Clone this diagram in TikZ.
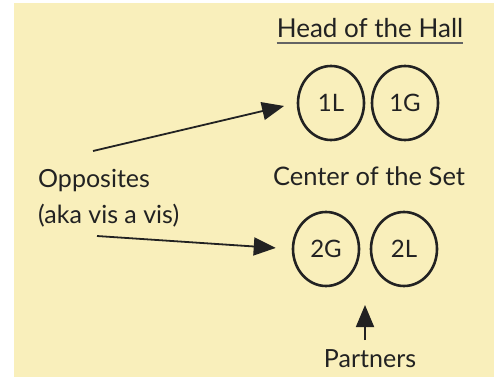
\documentclass[tikz,border=0pt]{standalone}
\usepackage{fontspec}
\setmainfont{Lato}
\usetikzlibrary{arrows.meta,shapes.geometric}
\definecolor{paper}{RGB}{249,239,187}
\definecolor{ink}{RGB}{34,34,34}
\tikzset{
  label text/.style={text=ink, inner sep=0pt, font=\fontsize{25}{30}\selectfont},
  dancer/.style={ellipse, draw=ink, line width=2.6pt, minimum width=66pt,
    minimum height=74pt, inner sep=0pt, text=ink,
    font=\fontsize{24}{28}\selectfont},
  pointer/.style={draw=ink, line width=1.8pt,
    -{Triangle[length=22pt,width=18pt]}},
}
\begin{document}
\begin{tikzpicture}[x=1pt,y=-1pt]
  \useasboundingbox (0,0) rectangle (497,377);
  % sheet of paper
  \fill[paper] (14,3) rectangle (494,377);

  % titles
  \node[label text, anchor=base, font=\fontsize{26}{30}\selectfont] (head) at (370,38) {Head of the Hall};
  \draw[ink!70, line width=1.4pt] ([yshift=-5pt]head.base west) -- ([yshift=-5pt]head.base east);
  \node[label text, anchor=base, font=\fontsize{25.5}{30}\selectfont] (center) at (369,185) {Center of the Set};
  \node[label text, anchor=base west] (opp) at (38,187) {Opposites};
  \node[label text, anchor=base west] (aka) at (38,223) {(aka vis a vis)};
  \node[label text, anchor=base] (partners) at (370,367) {Partners};

  % dancers
  \node[dancer] (l1) at (331,103) {1L};
  \node[dancer] (g1) at (405,103) {1G};
  \node[dancer] (g2) at (326,249) {2G};
  \node[dancer] (l2) at (404,249) {2L};

  % arrows
  \coordinate (oppTop) at (93,151);
  \coordinate (oppBot) at (97,236);
  \coordinate (partTop) at (365,340);
  \coordinate (gap) at (365,285);
  \draw[pointer, shorten >=13pt] (oppTop) -- (l1.west);
  \draw[pointer, shorten >=16pt] (oppBot) -- (g2.west);
  \draw[pointer, shorten >=20pt] (partTop) -- (gap);
\end{tikzpicture}
\end{document}
